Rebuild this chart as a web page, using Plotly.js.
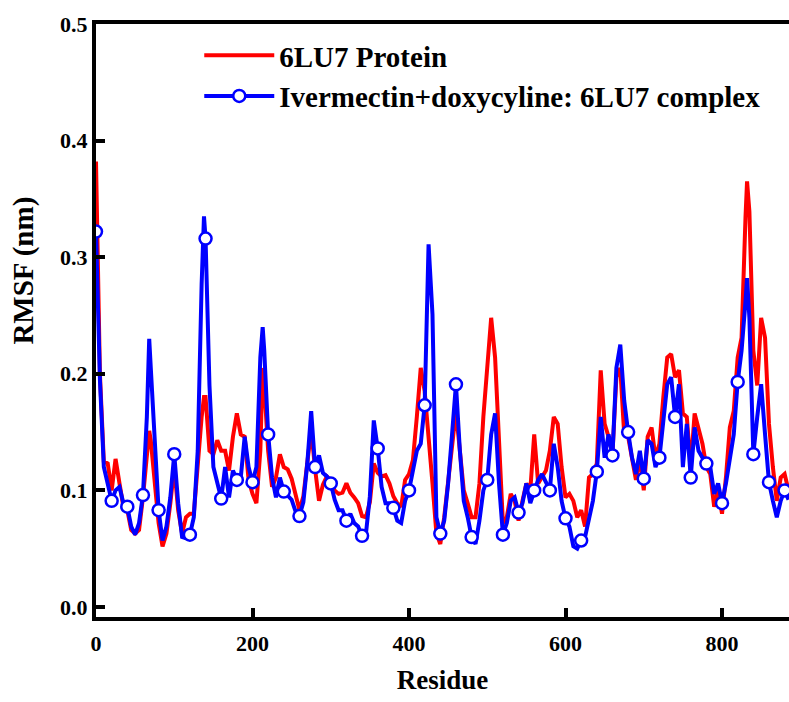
<!DOCTYPE html>
<html><head><meta charset="utf-8">
<script src="https://cdn.plot.ly/plotly-3.0.1.min.js"></script>
<style>html,body{margin:0;padding:0;background:#fff}#chart{width:789px;height:702px}</style>
</head><body><div id="chart"></div>
<script>
const residue = [0,5,10,15,20,25,30,35,40,45,50,55,60,65,68,70,75,80,85,90,95,100,105,110,115,120,125,130,135,138,140,145,150,155,160,165,170,175,180,185,190,195,200,205,210,213,215,220,225,230,235,240,245,250,255,260,265,270,275,280,285,290,295,300,305,310,315,320,325,330,335,340,345,350,355,360,365,370,375,380,385,390,395,400,405,410,415,420,425,430,435,440,445,450,455,460,465,470,475,480,485,490,495,500,505,510,515,520,525,530,535,540,545,550,555,560,565,570,575,580,585,590,595,600,605,610,615,620,625,630,635,640,645,650,655,660,665,670,675,680,685,690,695,700,705,710,715,720,725,730,735,740,745,750,755,760,765,770,775,780,785,790,795,800,805,810,815,820,825,830,832,835,840,845,850,855,860,865,870,875,880,885];
const rmsfProtein = [0.382,0.200,0.125,0.123,0.100,0.127,0.106,0.086,0.083,0.066,0.063,0.066,0.094,0.134,0.151,0.143,0.106,0.072,0.052,0.063,0.089,0.120,0.083,0.063,0.077,0.080,0.080,0.126,0.163,0.180,0.180,0.134,0.131,0.143,0.134,0.134,0.117,0.146,0.166,0.148,0.146,0.109,0.097,0.089,0.134,0.205,0.190,0.134,0.103,0.111,0.131,0.120,0.118,0.110,0.095,0.083,0.095,0.123,0.152,0.118,0.091,0.105,0.112,0.109,0.100,0.097,0.098,0.106,0.098,0.094,0.089,0.078,0.077,0.090,0.123,0.115,0.112,0.113,0.106,0.095,0.089,0.086,0.109,0.114,0.126,0.163,0.205,0.185,0.148,0.106,0.063,0.054,0.077,0.106,0.140,0.168,0.134,0.100,0.089,0.077,0.077,0.106,0.163,0.205,0.248,0.214,0.134,0.072,0.077,0.097,0.091,0.074,0.091,0.106,0.100,0.148,0.106,0.111,0.117,0.134,0.163,0.157,0.120,0.094,0.097,0.091,0.077,0.083,0.069,0.111,0.114,0.123,0.203,0.157,0.146,0.131,0.197,0.205,0.148,0.146,0.126,0.109,0.128,0.100,0.146,0.154,0.128,0.140,0.180,0.214,0.217,0.197,0.203,0.166,0.163,0.120,0.166,0.154,0.140,0.120,0.114,0.086,0.100,0.080,0.111,0.154,0.168,0.214,0.231,0.334,0.365,0.339,0.220,0.190,0.248,0.231,0.157,0.120,0.091,0.111,0.114,0.100];
const rmsfComplex = [0.322,0.195,0.120,0.106,0.091,0.100,0.103,0.089,0.086,0.069,0.062,0.072,0.096,0.163,0.230,0.205,0.137,0.083,0.057,0.069,0.094,0.131,0.089,0.060,0.059,0.062,0.077,0.134,0.277,0.335,0.316,0.190,0.120,0.106,0.093,0.120,0.094,0.117,0.109,0.111,0.146,0.120,0.107,0.120,0.214,0.240,0.220,0.148,0.111,0.094,0.111,0.099,0.095,0.092,0.082,0.078,0.090,0.123,0.168,0.120,0.130,0.115,0.112,0.106,0.092,0.083,0.083,0.074,0.080,0.072,0.069,0.061,0.063,0.095,0.160,0.136,0.103,0.089,0.089,0.085,0.074,0.072,0.091,0.100,0.117,0.134,0.140,0.173,0.311,0.251,0.077,0.063,0.074,0.106,0.148,0.191,0.134,0.091,0.077,0.060,0.054,0.074,0.100,0.109,0.148,0.166,0.106,0.062,0.072,0.091,0.094,0.081,0.089,0.106,0.089,0.100,0.109,0.114,0.106,0.100,0.140,0.120,0.091,0.076,0.069,0.052,0.050,0.057,0.060,0.077,0.091,0.116,0.163,0.128,0.148,0.130,0.205,0.225,0.177,0.150,0.128,0.114,0.134,0.110,0.143,0.140,0.120,0.128,0.163,0.191,0.197,0.163,0.191,0.120,0.157,0.111,0.154,0.134,0.128,0.123,0.120,0.097,0.106,0.089,0.106,0.126,0.148,0.193,0.220,0.262,0.282,0.248,0.131,0.163,0.191,0.148,0.107,0.091,0.077,0.091,0.100,0.092];
const seriesNames = ['6LU7 Protein', 'Ivermectin+doxycyline: 6LU7 complex'];
const xTickVals = [0, 200, 400, 600, 800];
const yTickVals = [0.0, 0.1, 0.2, 0.3, 0.4, 0.5];
const xTitle = 'Residue';
const yTitle = 'RMSF (nm)';

const markerStep = 20;
const mX = [], mY = [];
residue.forEach((r, i) => { if (r % markerStep === 0) { mX.push(r); mY.push(rmsfComplex[i]); } });

const RED = '#ff0000', BLUE = '#0000ff';
const FONT = 'Liberation Serif, Times New Roman, serif';
const markerStyle = { symbol: 'circle', size: 12, color: '#ffffff', line: { color: BLUE, width: 2.5 } };

const traces = [
  { x: residue, y: rmsfProtein, mode: 'lines', name: seriesNames[0], line: { color: RED, width: 4 } },
  { x: residue, y: rmsfComplex, mode: 'lines', showlegend: false, line: { color: BLUE, width: 4 } },
  { x: mX, y: mY, mode: 'markers', showlegend: false, marker: markerStyle },
  { x: [null], y: [null], mode: 'lines+markers', name: seriesNames[1], line: { color: BLUE, width: 4 }, marker: markerStyle }
];

const tickFont = { family: FONT, size: 22, weight: 'bold', color: '#000' };
const layout = {
  width: 789, height: 702,
  margin: { l: 96, r: 0, t: 24, b: 85 },
  paper_bgcolor: '#fff', plot_bgcolor: '#fff',
  showlegend: true,
  legend: { x: 0.149, y: 0.99, xanchor: 'left', yanchor: 'top', bgcolor: 'rgba(0,0,0,0)',
            font: { family: FONT, size: 29, weight: 'bold', color: '#000' }, itemwidth: 70, tracegroupgap: 0 },
  xaxis: { range: [0, 885.6], tickvals: xTickVals, ticks: 'inside', ticklen: 9, tickwidth: 4, tickcolor: '#000',
           showline: true, linewidth: 4, linecolor: '#000', mirror: true, showgrid: false, zeroline: false,
           tickfont: tickFont, ticklabelstandoff: 4,
           title: { text: xTitle, font: { family: FONT, size: 27, weight: 'bold', color: '#000' }, standoff: 16 } },
  yaxis: { range: [-0.0086, 0.5], tickvals: yTickVals, tickformat: '.1f', ticks: 'inside', ticklen: 9, tickwidth: 4,
           tickcolor: '#000', showline: true, linewidth: 4, linecolor: '#000', showgrid: false, zeroline: false,
           tickfont: tickFont },
  annotations: [{ text: yTitle, xref: 'paper', yref: 'paper', x: -0.104, y: 0.584, xanchor: 'center', yanchor: 'middle',
                  textangle: -90, showarrow: false, font: { family: FONT, size: 29, weight: 'bold', color: '#000' } }]
};
Plotly.newPlot('chart', traces, layout, { displayModeBar: false, staticPlot: true });
</script></body></html>
